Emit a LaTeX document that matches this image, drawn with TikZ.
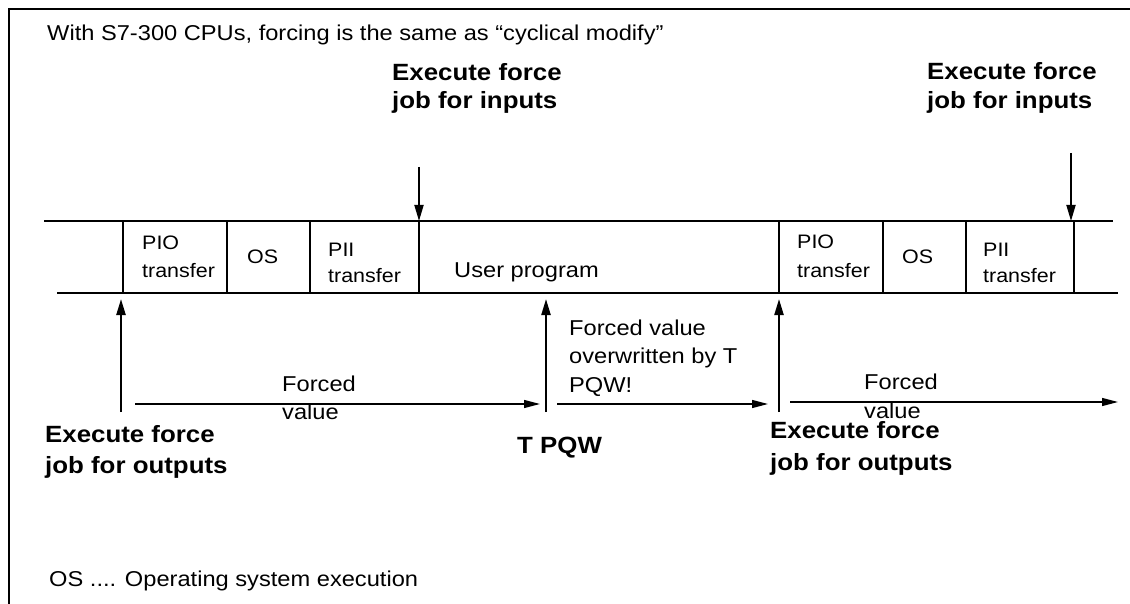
\documentclass[tikz,border=0pt]{standalone}
\usepackage{fontspec}
\setmainfont{Liberation Sans}
\newfontfamily\diagfont[FakeStretch=1.1]{Liberation Sans}
\usetikzlibrary{arrows.meta}
\begin{document}
\begin{tikzpicture}[x=1pt,y=-1pt,
  txt/.style={anchor=base west, inner sep=0pt, font=\diagfont\fontsize{21.5}{26}\selectfont},
  boxtxt/.style={anchor=base west, inner sep=0pt, font=\diagfont\fontsize{19.5}{24}\selectfont},
  boldtxt/.style={anchor=base west, inner sep=0pt, font=\diagfont\bfseries\fontsize{23.5}{28}\selectfont},
  band/.style={line width=1.3pt},
  frameline/.style={line width=1.5pt},
  vup/.style={line width=2.2pt, -{Triangle[length=16pt,width=9pt]}},
  vdown/.style={line width=1.8pt, -{Triangle[length=16pt,width=9pt]}},
  harr/.style={line width=1.3pt, -{Triangle[length=16pt,width=8pt]}}]
\useasboundingbox (0,0) rectangle (1130,604);
\fill[white] (0,0) rectangle (1130,604);
% frame
\coordinate (fr1) at (9,604);
\coordinate (fr2) at (9,9);
\coordinate (fr3) at (1130,9);
\draw[frameline] (fr1) -- (fr2) -- (fr3);
% title
\node[txt] (title) at (47,41) {With S7-300 CPUs, forcing is the same as “cyclical modify”};
% band
\coordinate (bt1) at (44,221);
\coordinate (bt2) at (1113,221);
\coordinate (bb1) at (57,293);
\coordinate (bb2) at (1118,293);
\draw[band] (bt1) -- (bt2);
\draw[band] (bb1) -- (bb2);
\foreach \x/\n in {123/d1,227/d2,310/d3,419/d4,779/d5,883/d6,966/d7,1074/d8}{
  \coordinate (\n t) at (\x,221);
  \coordinate (\n b) at (\x,293);
  \draw[band] (\n t) -- (\n b);
}
% box texts
\node[boxtxt] (pio1a) at (142,250) {PIO};
\node[boxtxt] (pio1b) at (142,277) {transfer};
\node[boxtxt] (os1) at (247,264) {OS};
\node[boxtxt] (pii1a) at (328,256) {PII};
\node[boxtxt] (pii1b) at (328,283) {transfer};
\node[txt] (user) at (454,277) {User program};
\node[boxtxt] (pio2a) at (797,249) {PIO};
\node[boxtxt] (pio2b) at (797,277) {transfer};
\node[boxtxt] (os2) at (902,264) {OS};
\node[boxtxt] (pii2a) at (983,257) {PII};
\node[boxtxt] (pii2b) at (983,283) {transfer};
% input force jobs
\node[boldtxt] (in1a) at (392,81) {Execute force};
\node[boldtxt] (in1b) at (392,109) {job for inputs};
\node[boldtxt] (in2a) at (927,80) {Execute force};
\node[boldtxt] (in2b) at (927,109) {job for inputs};
\coordinate (ia1) at (419,167);
\coordinate (ia2) at (1071,153);
\coordinate (ib1) at (419,221);
\coordinate (ib2) at (1071,221);
\draw[vdown] (ia1) -- (ib1);
\draw[vdown] (ia2) -- (ib2);
% up arrows
\coordinate (u1s) at (121,412);
\coordinate (u1e) at (121,299);
\coordinate (u2s) at (546,412);
\coordinate (u2e) at (546,299);
\coordinate (u3s) at (779,412);
\coordinate (u3e) at (779,299);
\draw[vup] (u1s) -- (u1e);
\draw[vup] (u2s) -- (u2e);
\draw[vup] (u3s) -- (u3e);
% horizontal arrows
\coordinate (h1s) at (135,404);
\coordinate (h1e) at (540,404);
\coordinate (h2s) at (557,404);
\coordinate (h2e) at (768,404);
\coordinate (h3s) at (790,402);
\coordinate (h3e) at (1118,402);
\draw[harr] (h1s) -- (h1e);
\draw[harr] (h2s) -- (h2e);
\draw[harr] (h3s) -- (h3e);
% labels
\node[txt] (fv1a) at (282,391) {Forced};
\node[txt] (fv1b) at (282,419) {value};
\node[txt] (ow1) at (569,335) {Forced value};
\node[txt] (ow2) at (569,363) {overwritten by T};
\node[txt] (ow3) at (569,392) {PQW!};
\node[txt] (fv2a) at (864,389) {Forced};
\node[txt] (fv2b) at (864,418) {value};
\node[boldtxt] (out1a) at (45,442) {Execute force};
\node[boldtxt] (out1b) at (45,473) {job for outputs};
\node[boldtxt] (tpqw) at (517,453) {T PQW};
\node[boldtxt] (out2a) at (770,438) {Execute force};
\node[boldtxt] (out2b) at (770,470) {job for outputs};
\node[txt] (note) at (49,586) {OS .... Operating system execution};
\end{tikzpicture}
\end{document}
